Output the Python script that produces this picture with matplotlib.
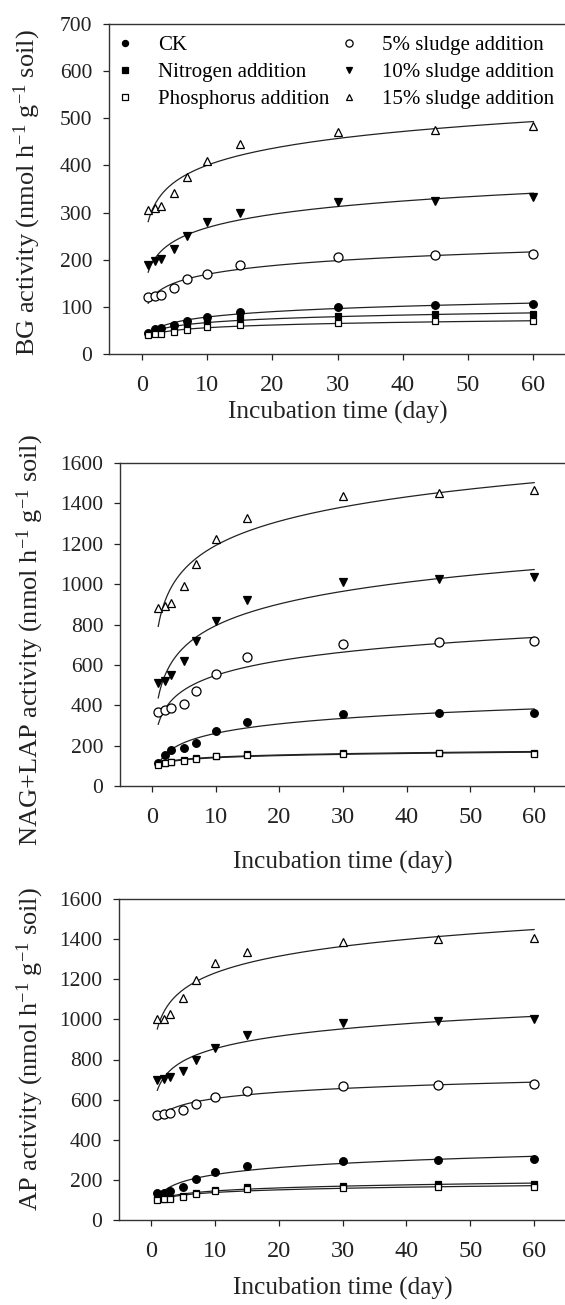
import numpy as np
import matplotlib
matplotlib.use("Agg")
import matplotlib.pyplot as plt

plt.rcParams['font.family'] = ['Liberation Serif', 'DejaVu Serif']
plt.rcParams['mathtext.fontset'] = 'custom'
plt.rcParams['mathtext.rm'] = 'Liberation Serif'
plt.rcParams['mathtext.it'] = 'Liberation Serif:italic'
plt.rcParams['mathtext.bf'] = 'Liberation Serif:bold'

days = [1, 2, 3, 5, 7, 10, 15, 30, 45, 60]
labels = ["CK", "Nitrogen addition", "Phosphorus addition",
          "5% sludge addition", "10% sludge addition", "15% sludge addition"]

# BG activity
bg_ck = [44, 53, 56, 62, 69, 78, 89, 100, 104, 106]
bg_n = [42, 48, 50, 55, 62, 69, 77, 80, 84, 84]
bg_p = [40, 42, 43, 47, 51, 57, 62, 66, 69, 69]
bg_s5 = [121, 122, 126, 140, 159, 170, 188, 206, 209, 212]
bg_s10 = [189, 197, 202, 223, 251, 280, 300, 322, 325, 333]
bg_s15 = [306, 310, 314, 342, 376, 410, 445, 470, 475, 483]

# NAG+LAP activity
nl_ck = [115, 153, 178, 190, 214, 272, 315, 355, 360, 364]
nl_n = [108, 115, 120, 129, 139, 150, 158, 162, 165, 163]
nl_p = [105, 112, 118, 126, 136, 147, 155, 158, 162, 160]
nl_s5 = [368, 378, 385, 408, 470, 555, 637, 702, 712, 718]
nl_s10 = [508, 522, 552, 617, 718, 818, 921, 1012, 1025, 1035]
nl_s15 = [880, 893, 905, 990, 1102, 1222, 1327, 1436, 1452, 1466]

# AP activity
ap_ck = [133, 136, 145, 166, 203, 238, 271, 296, 299, 306]
ap_n = [103, 106, 110, 120, 136, 150, 166, 171, 178, 178]
ap_p = [100, 103, 106, 116, 132, 145, 153, 161, 166, 164]
ap_s5 = [523, 527, 535, 548, 580, 615, 645, 668, 673, 678]
ap_s10 = [698, 701, 714, 744, 798, 859, 924, 980, 994, 1002]
ap_s15 = [1000, 1002, 1025, 1108, 1195, 1282, 1335, 1386, 1402, 1408]

x_ticks = [0, 10, 20, 30, 40, 50, 60]

styles = [dict(marker='o', mfc='black', mec='black'),
          dict(marker='s', mfc='black', mec='black'),
          dict(marker='s', mfc='white', mec='black'),
          dict(marker='o', mfc='white', mec='black'),
          dict(marker='v', mfc='black', mec='black'),
          dict(marker='^', mfc='white', mec='black')]
msizes = [5.5, 5.0, 5.0, 6.5, 6.0, 6.0]

panels = [
    dict(series=[bg_ck, bg_n, bg_p, bg_s5, bg_s10, bg_s15], ymax=700, ystep=100,
         ylabel="BG activity (nmol h$^{-1}$ g$^{-1}$ soil)",
         pos=[109/565, 1-354/1305, 457/565, 330/1305], ylc=(-0.145, 0.49), xlc=(0.5, -0.143)),
    dict(series=[nl_ck, nl_n, nl_p, nl_s5, nl_s10, nl_s15], ymax=1600, ystep=200,
         ylabel="NAG+LAP activity (nmol h$^{-1}$ g$^{-1}$ soil)",
         pos=[120/565, 1-786/1305, 446/565, 323/1305], ylc=(-0.165, 0.452), xlc=(0.5, -0.202)),
    dict(series=[ap_ck, ap_n, ap_p, ap_s5, ap_s10, ap_s15], ymax=1600, ystep=200,
         ylabel="AP activity (nmol h$^{-1}$ g$^{-1}$ soil)",
         pos=[119/565, 1-1220/1305, 447/565, 321/1305], ylc=(-0.163, 0.533), xlc=(0.5, -0.177)),
]

fig = plt.figure(figsize=(5.65, 13.05), dpi=100)
xd = np.array(days, dtype=float)
xs = np.linspace(1, 60, 300)

for k, p in enumerate(panels):
    ax = fig.add_axes(p['pos'])
    for i, ys in enumerate(p['series']):
        ya = np.array(ys, dtype=float)
        b, a = np.polyfit(np.log(xd), ya, 1)
        ax.plot(xs, a + b*np.log(xs), color='#222222', lw=0.9, zorder=2)
        ax.plot(xd, ya, ls='none', ms=msizes[i], mew=0.9, label=labels[i], zorder=3, **styles[i])
    ax.set_xlim(-5, 65)
    ax.set_ylim(0, p['ymax'])
    ax.set_xticks(x_ticks)
    ax.set_yticks(np.arange(0, p['ymax'] + 1, p['ystep']))
    ax.spines['right'].set_visible(False)
    for s in ['left', 'bottom', 'top']:
        ax.spines[s].set_linewidth(1.0)
        ax.spines[s].set_color('#333333')
    ax.tick_params(axis='x', direction='out', length=4, width=0.9, pad=11, labelsize=17.5, colors='#222222')
    ax.tick_params(axis='y', direction='out', length=4, width=0.9, pad=8, labelsize=15.5, colors='#222222')
    ax.set_xlabel("Incubation time (day)", fontsize=18.3, color='#222222')
    ax.set_ylabel(p['ylabel'], fontsize=19, color='#222222')
    ax.xaxis.set_label_coords(*p['xlc'])
    ax.yaxis.set_label_coords(*p['ylc'])
    if k == 0:
        ax.legend(loc='upper left', bbox_to_anchor=(0.012, 0.964), ncol=2, frameon=False,
                  fontsize=15, handlelength=1.0, handletextpad=1.09, columnspacing=0.45,
                  labelspacing=0.35, markerscale=0.8, borderaxespad=0, borderpad=0)

fig.savefig("out.png", dpi=100)
